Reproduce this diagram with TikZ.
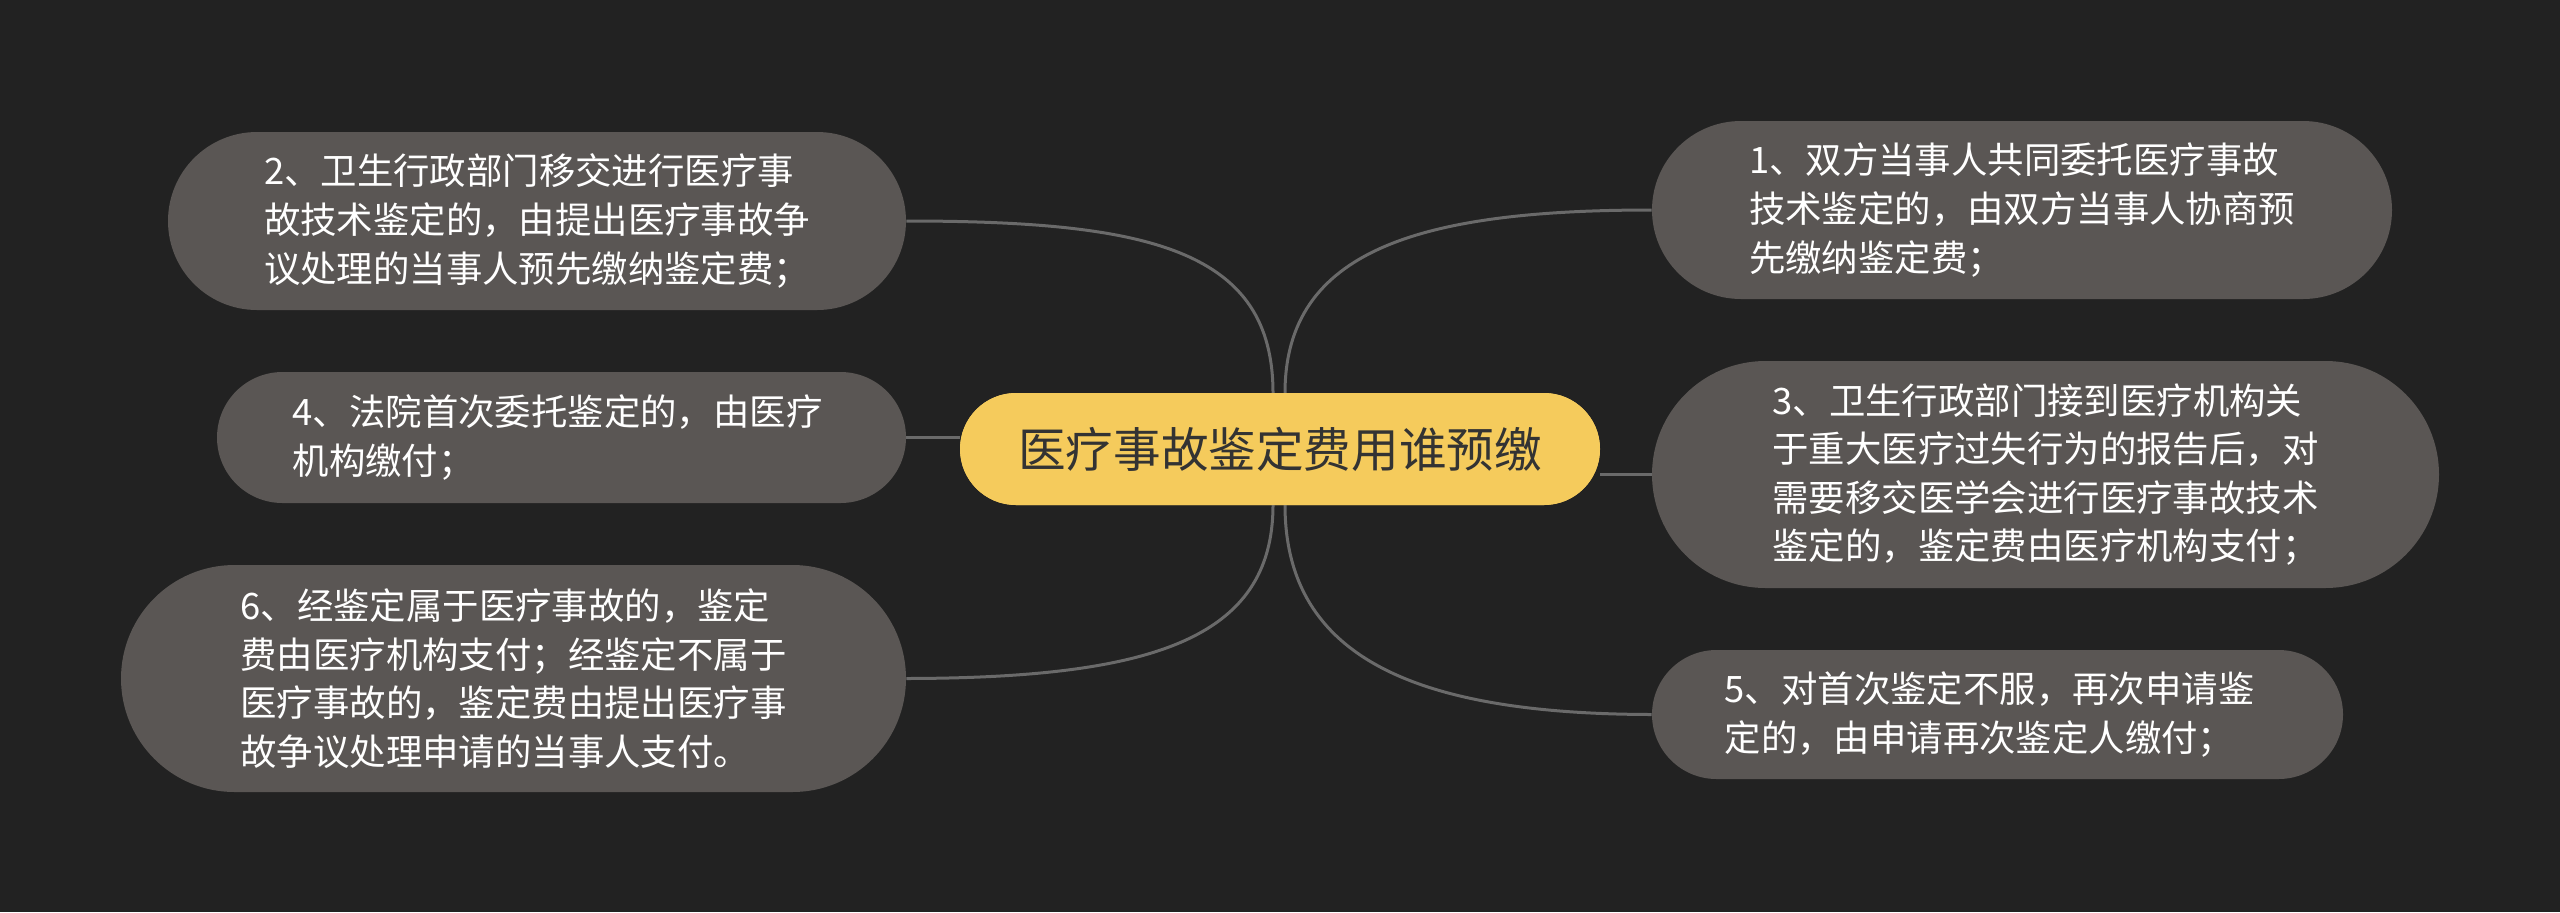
\documentclass[tikz,border=0pt]{standalone}
\usepackage{fontspec}
\setmainfont{Noto Sans CJK SC}
\usetikzlibrary{shapes.misc}
\definecolor{bg}{HTML}{222222}
\definecolor{leaf}{HTML}{5A5654}
\definecolor{rootc}{HTML}{F5CB5C}
\definecolor{linec}{HTML}{6A6A6A}
\definecolor{roottext}{HTML}{333333}
\tikzset{
  leafbox/.style={rounded rectangle, fill=leaf, text=white, align=left, inner sep=0pt,
    font=\fontsize{18.2}{24.3}\selectfont},
  rootbox/.style={rounded rectangle, fill=rootc, text=roottext, inner sep=0pt,
    font=\fontsize{23.8}{28}\selectfont},
  link/.style={draw=linec, line width=1.5pt}
}
\begin{document}
\begin{tikzpicture}[x=0.5pt,y=-0.5pt]
\fill[bg] (0,0) rectangle (2560,912);
\useasboundingbox (0,0) rectangle (2560,912);

\node[rootbox, minimum width=320pt, minimum height=56pt] (root) at (1280,449) {医疗事故鉴定费用谁预缴};

\node[leafbox, minimum width=369pt, minimum height=89pt] (n2) at (537,221)
  {2、卫生行政部门移交进行医疗事\\故技术鉴定的，由提出医疗事故争\hspace*{4pt}\\议处理的当事人预先缴纳鉴定费；};
\node[leafbox, minimum width=344.5pt, minimum height=65.5pt] (n4) at (561.5,437.5)
  {4、法院首次委托鉴定的，由医疗\hspace*{4pt}\\机构缴付；};
\node[leafbox, minimum width=392.5pt, minimum height=113.5pt] (n6) at (513.5,678.5)
  {6、经鉴定属于医疗事故的，鉴定\\费由医疗机构支付；经鉴定不属于\hspace*{4pt}\\医疗事故的，鉴定费由提出医疗事\\故争议处理申请的当事人支付。};

\node[leafbox, minimum width=370pt, minimum height=89pt] (n1) at (2022,210)
  {1、双方当事人共同委托医疗事故\\技术鉴定的，由双方当事人协商预\hspace*{4pt}\\先缴纳鉴定费；};
\node[leafbox, minimum width=393.5pt, minimum height=113.5pt] (n3) at (2045.5,474.5)
  {3、卫生行政部门接到医疗机构关\\于重大医疗过失行为的报告后，对\\需要移交医学会进行医疗事故技术\\鉴定的，鉴定费由医疗机构支付；};
\node[leafbox, minimum width=345.5pt, minimum height=64.5pt] (n5) at (1997.5,714.5)
  {5、对首次鉴定不服，再次申请鉴\hspace*{8pt}\\定的，由申请再次鉴定人缴付；};

\coordinate (rt1) at (1273,393);
\coordinate (rt2) at (1285,393);
\coordinate (rb1) at (1273,505);
\coordinate (rb2) at (1285,505);

\draw[link] (rt1) .. controls (1273,250) and (1150,221) .. (n2.east);
\draw[link] (root.west |- n4.east) -- (n4.east);
\draw[link] (rb1) .. controls (1273,640) and (1150,678) .. (n6.east);
\draw[link] (rt2) .. controls (1285,250) and (1420,210) .. (n1.west);
\draw[link] (root.east |- n3.west) -- (n3.west);
\draw[link] (rb2) .. controls (1285,660) and (1420,714) .. (n5.west);

\node[rootbox, minimum width=320pt, minimum height=56pt] at (root) {医疗事故鉴定费用谁预缴};
\end{tikzpicture}
\end{document}
